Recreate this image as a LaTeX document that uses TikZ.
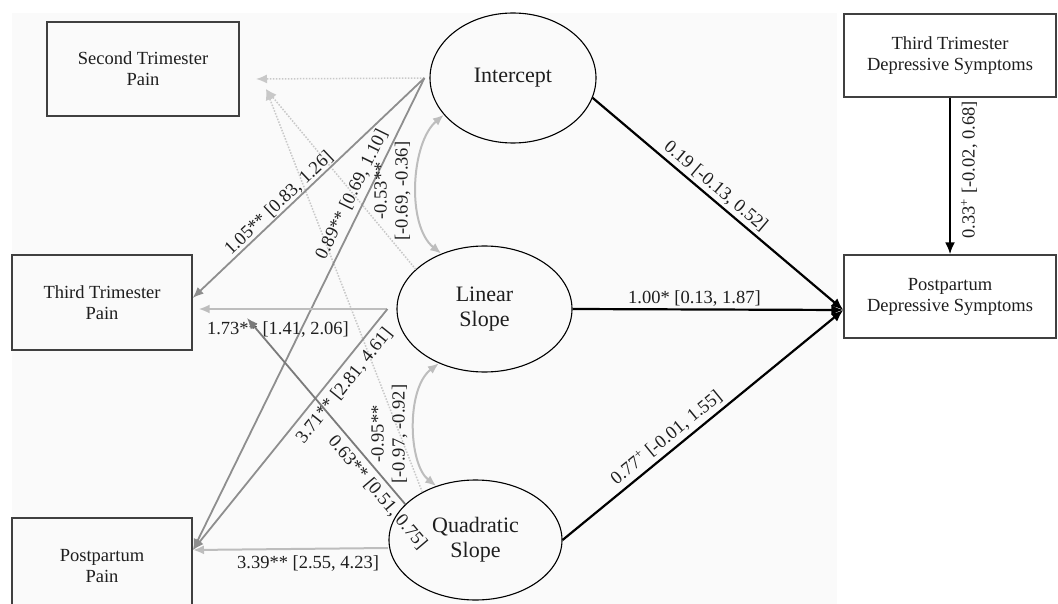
\documentclass[tikz,border=0pt]{standalone}
\usepackage{fontspec}
\setmainfont{Liberation Serif}
\usetikzlibrary{arrows.meta,shapes.geometric}
\definecolor{boxline}{HTML}{404040}
\definecolor{midgray}{HTML}{8E8E8E}
\definecolor{darkgray2}{HTML}{7A7A7A}
\definecolor{lightgray2}{HTML}{BDBDBD}
\definecolor{dotgray}{HTML}{C8C8C8}
\definecolor{txt}{HTML}{1E1E1E}
\definecolor{bgfill}{HTML}{FAFAFA}
\begin{document}
\begin{tikzpicture}[x=1pt,y=-1pt,
  font=\fontsize{18.5}{21}\selectfont,
  every node/.style={text=txt},
  obsbox/.style={draw=boxline, line width=1.3pt, rectangle, inner sep=0pt, align=center},
  latent/.style={draw=black, line width=1.1pt, ellipse, inner sep=0pt, align=center, font=\fontsize{22}{25}\selectfont},
  blackpath/.style={draw=black, line width=2.2pt, -{Latex[length=12pt,width=10pt]}},
  midpath/.style={draw=midgray, line width=1.8pt, -{Latex[length=11pt,width=9pt]}},
  lightpath/.style={draw=lightgray2, line width=2pt, -{Latex[length=11pt,width=9pt]}},
  dotpath/.style={draw=dotgray, line width=1.5pt, dash pattern=on 1.5pt off 1.5pt, -{Latex[length=11pt,width=9pt]}},
  covpath/.style={draw=lightgray2, line width=2pt, {Latex[length=11pt,width=9pt]}-{Latex[length=11pt,width=9pt]}},
  lab/.style={font=\fontsize{18.5}{21}\selectfont, inner sep=1pt},
]
\useasboundingbox (0,0) rectangle (1058,604);
\fill[bgfill] (12,13) rectangle (837,604);

% observed boxes
\node[obsbox, minimum width=192pt, minimum height=94pt] (stp) at (143,69) {Second Trimester\\Pain};
\node[obsbox, minimum width=180pt, minimum height=95pt] (ttp) at (102,302.5) {Third Trimester\\Pain};
\node[obsbox, minimum width=180pt, minimum height=96pt] (ppp) at (102,566) {Postpartum\\Pain};
\node[obsbox, minimum width=212pt, minimum height=83pt] (ttds) at (950,55.5) {Third Trimester\\Depressive Symptoms};
\node[obsbox, minimum width=212pt, minimum height=83pt] (ppds) at (950,296.5) {Postpartum\\Depressive Symptoms};

% latent factors
\node[latent, minimum width=166pt, minimum height=130pt] (icpt) at (513,78) {Intercept};
\node[latent, minimum width=175pt, minimum height=126pt] (lin) at (484.5,309) {Linear\\Slope};
\node[latent, minimum width=173pt, minimum height=120pt] (quad) at (475.5,540) {Quadratic\\Slope};

% connector end points
\coordinate (iL) at ([xshift=-5pt]icpt.west);
\coordinate (lL) at ([xshift=-9pt]lin.west);
\coordinate (qL) at (388,548);
\coordinate (conv) at ([yshift=-13.5pt]ppds.west);
\coordinate (stpA) at (256,79);
\coordinate (stpB) at (266,89);
\coordinate (ttpA) at ([yshift=4.5pt]ttp.east);
\coordinate (ttpB) at ([xshift=6pt,yshift=-6.5pt]ttp.east);
\coordinate (ttpC) at (247,318);
\coordinate (pppA) at (193,550);

% dotted paths to second trimester pain
\draw[dotpath] (iL) -- (stpA);
\draw[dotpath] (lin.150) -- (stpB);
\draw[dotpath] (quad.138) -- (stpB);

% gray paths
\draw[midpath] (iL) -- node[lab, pos=0.6, sloped, above, inner sep=0.5pt] {1.05** [0.83, 1.26]} (ttpA);
\draw[midpath] (iL) -- node[lab, pos=0.26, sloped, above, inner sep=5pt] {0.89** [0.69, 1.10]} (pppA);
\draw[lightpath] (lL) -- node[lab, pos=0.58, below, inner sep=12pt] {1.73** [1.41, 2.06]} (ttpB);
\draw[midpath] (lL) -- node[lab, pos=0.28, sloped, below, inner sep=6pt] {3.71** [2.81, 4.61]} (pppA);
\draw[midpath, draw=darkgray2] (quad.153) -- node[lab, pos=0.11, sloped, below, inner sep=5pt] {0.63** [0.51, 0.75]} (ttpC);
\draw[lightpath] (qL) -- node[lab, pos=0.41, below, inner sep=6pt] {3.39** [2.55, 4.23]} (pppA);

% covariances
\draw[covpath] (icpt.208) .. controls +(-33,28) and +(-35,-28) .. (lin.128);
\draw[covpath] (lin.230) .. controls +(-33,25) and +(-28,-22) .. (quad.126);
\node[lab, rotate=90, align=center] (cov1) at (392.5,191) {-0.53**\\{}[-0.69, -0.36]};
\node[lab, rotate=90, align=center] (cov2) at (389.5,434) {-0.95**\\{}[-0.97, -0.92]};

% black paths to postpartum depressive symptoms
\draw[blackpath] (icpt.-14) -- node[lab, pos=0.46, sloped, above, inner sep=3pt] {0.19 [-0.13, 0.52]} (conv);
\draw[blackpath] (lin.east) -- node[lab, pos=0.45, above, inner sep=2pt] {1.00* [0.13, 1.87]} (conv);
\draw[blackpath] (quad.east) -- node[lab, pos=0.40, sloped, above, inner sep=4pt] {0.77\textsuperscript{+} [-0.01, 1.55]} (conv);
\draw[blackpath] (ttds) -- node[lab, pos=0.46, rotate=90, anchor=north, inner sep=10pt] {0.33\textsuperscript{+} [-0.02, 0.68]} (ppds);
\end{tikzpicture}
\end{document}
